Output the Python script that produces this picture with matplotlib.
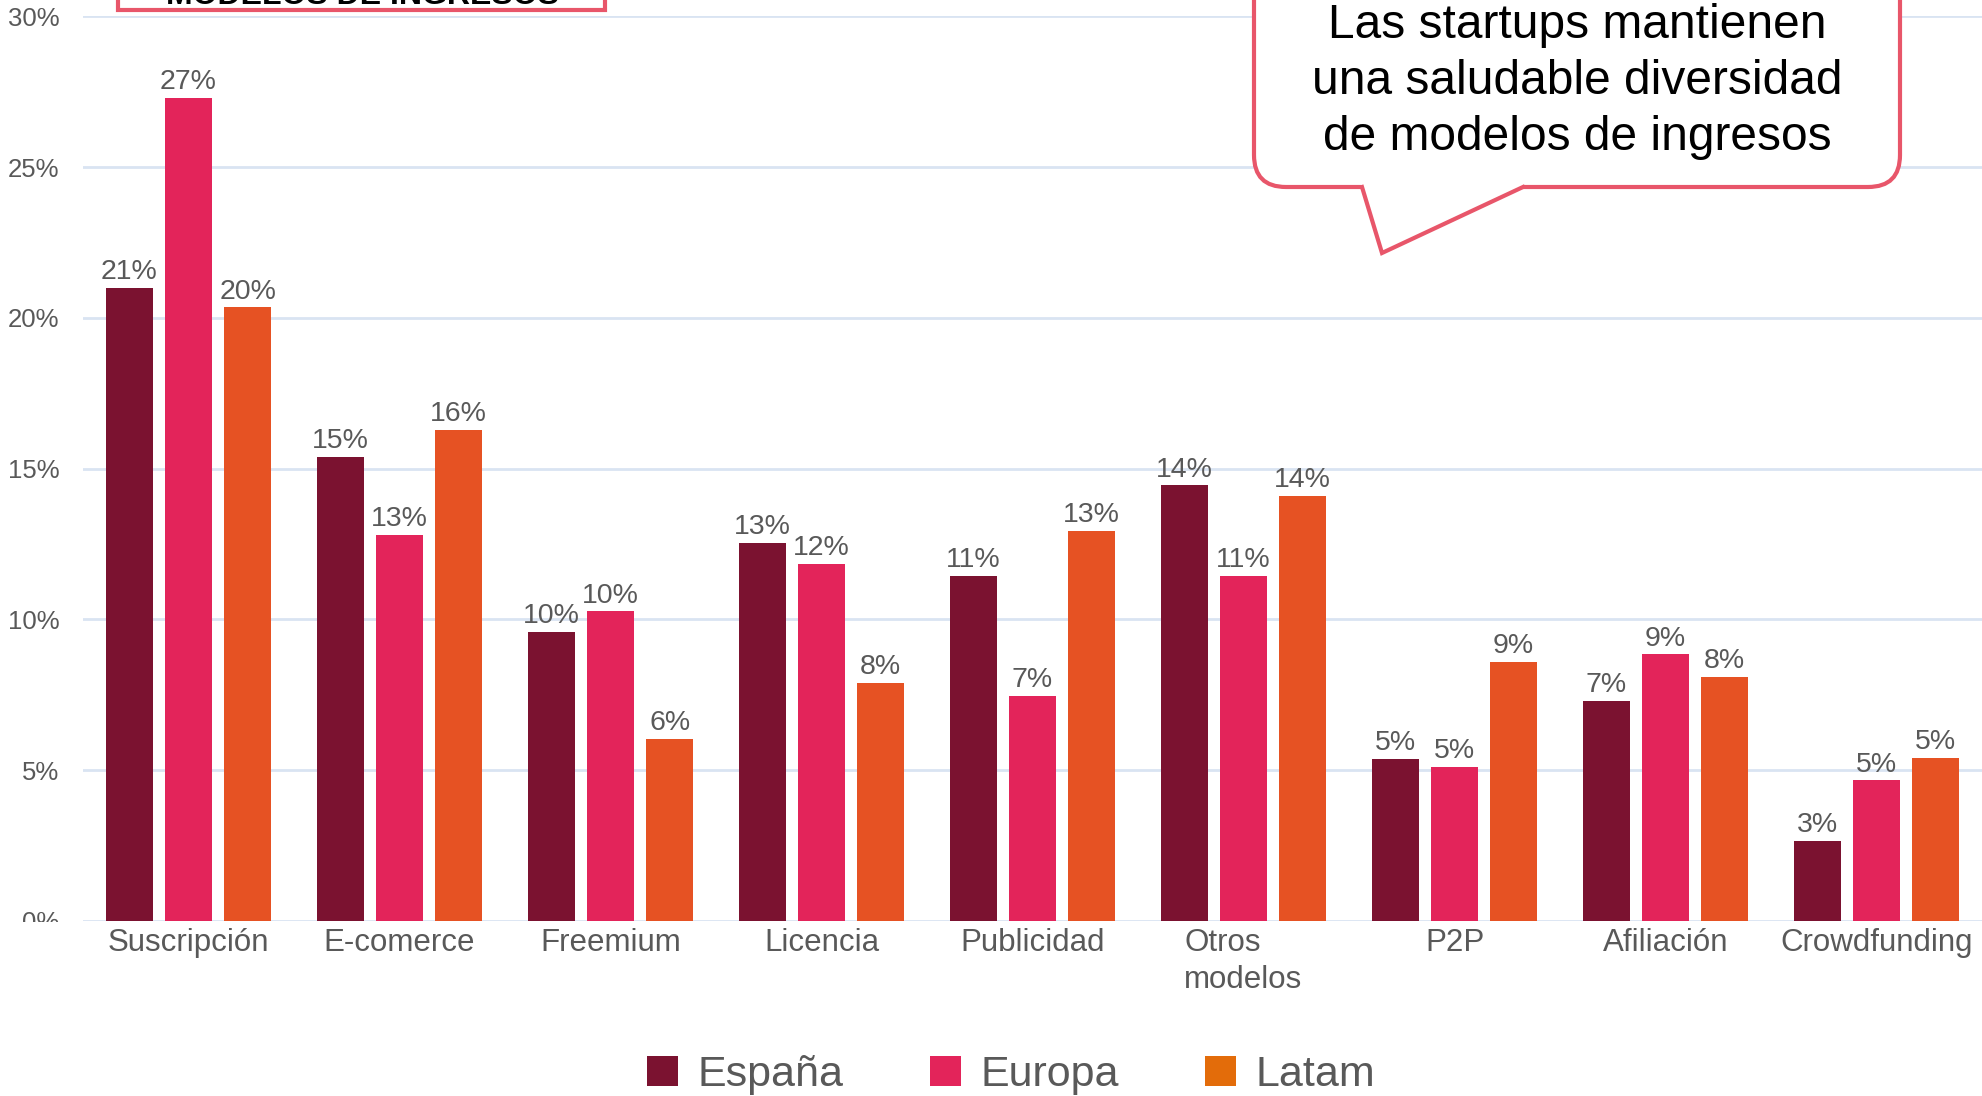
import numpy as np
import matplotlib
matplotlib.use('Agg')
import matplotlib.pyplot as plt
from matplotlib.patches import Patch, Rectangle, FancyBboxPatch, Polygon
from matplotlib.lines import Line2D
from matplotlib.transforms import IdentityTransform

# Revenue models by region (% of startups)
categories = ["Suscripción", "E-comerce", "Freemium", "Licencia", "Publicidad",
              "Otros\nmodelos", "P2P", "Afiliación", "Crowdfunding"]
espana = [21.0, 15.4, 9.6, 12.55, 11.45, 14.45, 5.37, 7.3, 2.65]
europa = [27.3, 12.8, 10.27, 11.85, 7.46, 11.45, 5.12, 8.84, 4.66]
latam = [20.35, 16.3, 6.04, 7.9, 12.94, 14.1, 8.6, 8.1, 5.42]
series_names = ["España", "Europa", "Latam"]
yticks = [0, 5, 10, 15, 20, 25, 30]

bar_colors = ["#7B1230", "#E3245A", "#E65223"]
legend_colors = ["#7B1230", "#E3245A", "#E36C0A"]
text_gray = "#595959"
callout_red = "#E8566A"

W, H = 1982, 1096
plt.rcParams['font.family'] = ['Liberation Sans', 'DejaVu Sans']

fig = plt.figure(figsize=(W / 100, H / 100), dpi=100)
ax = fig.add_axes([83 / W, 1 - 921 / H, 1899 / W, (921 - 16.4) / H])

x = np.arange(len(categories))
offsets = [-0.28, 0.0, 0.28]
for vals, off, color in zip([espana, europa, latam], offsets, bar_colors):
    bars = ax.bar(x + off, vals, width=0.223, color=color, zorder=3)
    ax.bar_label(bars, labels=[f"{v:.0f}%" for v in vals], padding=2,
                 fontsize=20.5, color=text_gray, zorder=4)

ax.set_xlim(-0.5, len(categories) - 0.5)
ax.set_ylim(0, 30)
ax.set_yticks(yticks)
ax.set_yticklabels([f"{t}%" for t in yticks])
ax.set_xticks(x)
ax.set_xticklabels(categories, multialignment='left', linespacing=1.3)
ax.tick_params(axis='y', length=0, pad=17, labelsize=18.5, labelcolor=text_gray)
ax.tick_params(axis='x', length=0, pad=5, labelsize=22.5, labelcolor=text_gray)
ax.yaxis.grid(True, color="#D9E4F2", linewidth=2, zorder=0)
ax.set_axisbelow(True)
for s in ax.spines.values():
    s.set_visible(False)

# the bottom of the "0%" label is hidden behind the category strip
fig.add_artist(Rectangle((0, 0), 80, H - 922, transform=IdentityTransform(),
                         facecolor="white", edgecolor="none", zorder=5))

# legend
handles = [Patch(facecolor=c, edgecolor='none') for c in legend_colors]
fig.legend(handles, series_names, loc='center',
           bbox_to_anchor=(1011 / W, 1 - 1075 / H),
           ncol=3, frameon=False, fontsize=31, labelcolor=text_gray,
           handlelength=0.72, handleheight=0.72, handletextpad=0.45,
           columnspacing=2.0)

# section title box, mostly above the top edge
fig.add_artist(Rectangle((118, H - 10), 487, 80, transform=IdentityTransform(),
                         facecolor="white", edgecolor=callout_red, linewidth=3,
                         zorder=5))
fig.text(362 / W, 1 - 4 / H, "MODELOS DE INGRESOS", ha='center', va='baseline',
         fontsize=23, fontweight='bold', color='black', zorder=6)

# speech bubble
r = 32
x0, x1 = 1254, 1900
yb = H - 187
yt = H + 60
bubble = FancyBboxPatch((x0 + r, yb + r), x1 - x0 - 2 * r, yt - yb - 2 * r,
                        boxstyle=f"round,pad={r}", transform=IdentityTransform(),
                        facecolor="white", edgecolor=callout_red, linewidth=3,
                        zorder=5)
fig.add_artist(bubble)
tail = [(1362, H - 187), (1382, H - 253), (1523, H - 187)]
fig.add_artist(Polygon([(1360, H - 183)] + tail + [(1525, H - 183)], closed=True,
                       transform=IdentityTransform(), facecolor="white",
                       edgecolor="none", zorder=6))
fig.add_artist(Line2D([p[0] for p in tail], [p[1] for p in tail],
                      transform=IdentityTransform(), color=callout_red,
                      linewidth=3, solid_joinstyle='miter', zorder=7))
for line, yc in zip(["Las startups mantienen", "una saludable diversidad",
                     "de modelos de ingresos"], [25, 82, 138]):
    fig.text(1577 / W, 1 - yc / H, line, ha='center', va='center',
             fontsize=34.5, color='black', zorder=8)

fig.savefig("out.png", dpi=100)
